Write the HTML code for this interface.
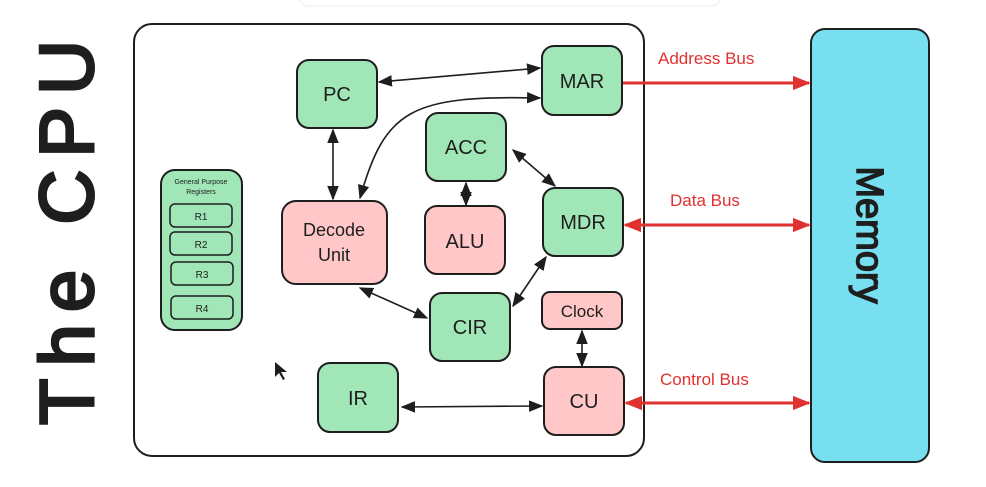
<!DOCTYPE html>
<html><head><meta charset="utf-8"><style>
html,body{margin:0;padding:0;background:#fff;width:986px;height:487px;overflow:hidden}
svg{display:block}
text{font-family:"Liberation Sans",sans-serif;fill:#1e1e1e}
</style></head><body>
<svg width="986" height="487" viewBox="0 0 986 487" xmlns="http://www.w3.org/2000/svg">
<defs>
<marker id="ak" viewBox="0 0 10 10" refX="9" refY="5" markerWidth="9" markerHeight="9" orient="auto-start-reverse"><path d="M0,1 L10,5 L0,9 z" fill="#1e1e1e"/></marker>
<marker id="ar" viewBox="0 0 10 10" refX="9" refY="5" markerWidth="6" markerHeight="6" orient="auto-start-reverse"><path d="M0,1 L10,5 L0,9 z" fill="#e03131"/></marker>
</defs>
<rect x="300" y="-10" width="420" height="16" rx="8" fill="#fff" stroke="#eee"/>
<text transform="translate(93,425) rotate(-90)" font-size="76" textLength="385" lengthAdjust="spacing" stroke="#1e1e1e" stroke-width="3">The CPU</text>
<rect x="134" y="24" width="510" height="432" rx="18" fill="#fff" stroke="#1e1e1e" stroke-width="2"/>
<rect x="811" y="29" width="118" height="433" rx="14" fill="#77dff0" stroke="#1e1e1e" stroke-width="2"/>
<text transform="translate(857,235) rotate(90)" font-size="38" text-anchor="middle" stroke="#1e1e1e" stroke-width="1.5">Memory</text>
<g stroke="#1e1e1e" stroke-width="1.6" fill="none">
<line x1="379" y1="82" x2="540" y2="68" marker-start="url(#ak)" marker-end="url(#ak)"/>
<path d="M360,198 C385,110 410,95 540,98" marker-start="url(#ak)" marker-end="url(#ak)"/>
<line x1="333" y1="130" x2="333" y2="199" marker-start="url(#ak)" marker-end="url(#ak)"/>
<line x1="466" y1="183" x2="466" y2="205" marker-start="url(#ak)" marker-end="url(#ak)"/>
<line x1="513" y1="150" x2="555" y2="186" marker-start="url(#ak)" marker-end="url(#ak)"/>
<line x1="360" y1="288" x2="427" y2="318" marker-start="url(#ak)" marker-end="url(#ak)"/>
<line x1="513" y1="306" x2="546" y2="257" marker-start="url(#ak)" marker-end="url(#ak)"/>
<line x1="582" y1="331" x2="582" y2="366" marker-start="url(#ak)" marker-end="url(#ak)"/>
<line x1="402" y1="407" x2="542" y2="406" marker-start="url(#ak)" marker-end="url(#ak)"/>
</g>
<g stroke="#e03131" stroke-width="3" fill="none">
<line x1="622" y1="83" x2="809" y2="83" marker-end="url(#ar)"/>
<line x1="625" y1="225" x2="809" y2="225" marker-start="url(#ar)" marker-end="url(#ar)"/>
<line x1="626" y1="403" x2="809" y2="403" marker-start="url(#ar)" marker-end="url(#ar)"/>
</g>
<g font-size="17">
<text x="658" y="64" style="fill:#e03131">Address Bus</text>
<text x="670" y="206" style="fill:#e03131">Data Bus</text>
<text x="660" y="385" style="fill:#e03131">Control Bus</text>
</g>
<g stroke="#1e1e1e" stroke-width="2">
<rect x="297" y="60" width="80" height="68" rx="12" fill="#a0e6b6"/>
<rect x="542" y="46" width="80" height="69" rx="12" fill="#a0e6b6"/>
<rect x="426" y="113" width="80" height="68" rx="12" fill="#a0e6b6"/>
<rect x="543" y="188" width="80" height="68" rx="12" fill="#a0e6b6"/>
<rect x="282" y="201" width="105" height="83" rx="14" fill="#ffc7c7"/>
<rect x="425" y="206" width="80" height="68" rx="12" fill="#ffc7c7"/>
<rect x="430" y="293" width="80" height="68" rx="12" fill="#a0e6b6"/>
<rect x="542" y="292" width="80" height="37" rx="8" fill="#ffc7c7"/>
<rect x="318" y="363" width="80" height="69" rx="12" fill="#a0e6b6"/>
<rect x="544" y="367" width="80" height="68" rx="12" fill="#ffc7c7"/>
<rect x="161" y="170" width="81" height="160" rx="14" fill="#a0e6b6"/>
<rect x="170" y="204" width="62" height="23" rx="5" fill="#a0e6b6" stroke-width="1.5"/>
<rect x="170" y="232" width="62" height="23" rx="5" fill="#a0e6b6" stroke-width="1.5"/>
<rect x="171" y="262" width="62" height="23" rx="5" fill="#a0e6b6" stroke-width="1.5"/>
<rect x="171" y="296" width="62" height="23" rx="5" fill="#a0e6b6" stroke-width="1.5"/>
</g>
<g font-size="20" text-anchor="middle">
<text x="337" y="101">PC</text>
<text x="582" y="88">MAR</text>
<text x="466" y="154">ACC</text>
<text x="583" y="229">MDR</text>
<text x="334" y="236" font-size="18">Decode</text>
<text x="334" y="261" font-size="18">Unit</text>
<text x="465" y="248">ALU</text>
<text x="470" y="334">CIR</text>
<text x="582" y="317" font-size="17">Clock</text>
<text x="358" y="405">IR</text>
<text x="584" y="408">CU</text>
<text x="201" y="184" font-size="7">General Purpose</text>
<text x="201" y="194" font-size="7">Registers</text>
<text x="201" y="220" font-size="10">R1</text>
<text x="201" y="248" font-size="10">R2</text>
<text x="202" y="278" font-size="10">R3</text>
<text x="202" y="312" font-size="10">R4</text>
</g>
<path d="M275,362 L275,377 L279,373 L283,380 L285,379 L281,372 L287,372 z" fill="#1e1e1e"/>
</svg>
</body></html>
